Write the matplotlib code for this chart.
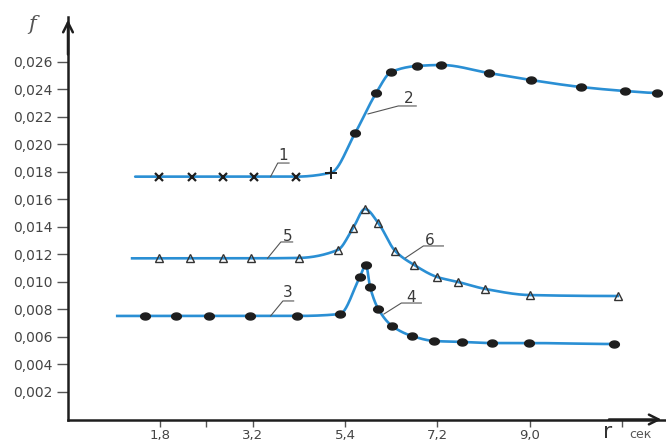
import numpy as np
import matplotlib
matplotlib.use("Agg")
import matplotlib.pyplot as plt
from matplotlib.path import Path

# ---- data -------------------------------------------------------------
# curve 1 (crosses) followed by curve 2 (dots): one continuous line
t1 = [1.78, 2.41, 3.03, 3.62, 4.44]
f1 = [0.01766, 0.01766, 0.01766, 0.01766, 0.01766]
t_plus = [5.13]
f_plus = [0.01795]
t2 = [5.60, 6.01, 6.30, 6.81, 7.28, 8.20, 9.02, 10.00, 10.86, 11.49]
f2 = [0.02084, 0.02375, 0.02527, 0.02571, 0.02578, 0.02520, 0.02469,
      0.02418, 0.02389, 0.02375]

# curves 5 / 6 (open triangles)
t56 = [1.78, 2.37, 3.03, 3.56, 4.50, 5.26, 5.56, 5.79, 6.05, 6.38, 6.75,
       7.20, 7.61, 8.14, 9.00, 10.72]
f56 = [0.01172, 0.01172, 0.01172, 0.01172, 0.01175, 0.01233, 0.01393,
       0.01531, 0.01429, 0.01225, 0.01124, 0.01036, 0.01000, 0.00949,
       0.00905, 0.00898]

# curves 3 / 4 (dots)
t34 = [1.51, 2.11, 2.74, 3.54, 4.46, 5.30, 5.69, 5.81, 5.89, 6.05, 6.32,
       6.71, 7.14, 7.69, 8.26, 8.98, 10.65]
f34 = [0.00753, 0.00753, 0.00753, 0.00753, 0.00753, 0.00767, 0.01036,
       0.01124, 0.00964, 0.00804, 0.00680, 0.00607, 0.00571, 0.00564,
       0.00556, 0.00556, 0.00549]

# time at which each drawn line begins (before its first marker)
line_start_12 = 1.31
line_start_56 = 1.25
line_start_34 = 0.96

y_ticks = [0.002, 0.004, 0.006, 0.008, 0.010, 0.012, 0.014, 0.016,
           0.018, 0.020, 0.022, 0.024, 0.026]
x_ticks = [1.8, 2.7, 3.6, 5.4, 7.2, 9.0, 10.8]
x_tick_labels = ["1,8", "", "3,2", "5,4", "7,2", "9,0", ""]

# curve numbers with their leader lines: (label, leader xs, leader ys, text x, text y)
curve_labels = [
    ("1", [3.95, 4.09, 4.31], [0.01766, 0.01865, 0.01865], 4.19, 0.01920),
    ("2", [5.85, 6.44, 6.79], [0.02222, 0.02280, 0.02280], 6.65, 0.02335),
    ("5", [3.89, 4.15, 4.38], [0.01172, 0.01291, 0.01291], 4.29, 0.01330),
    ("6", [6.58, 6.93, 7.32], [0.01175, 0.01262, 0.01262], 7.05, 0.01305),
    ("3", [3.95, 4.19, 4.40], [0.00753, 0.00862, 0.00862], 4.29, 0.00920),
    ("4", [6.16, 6.50, 6.89], [0.00767, 0.00847, 0.00847], 6.69, 0.00888),
]


def pchip(x, y, n=600):
    """Monotone cubic Hermite curve through (x, y) for a smooth drawn line."""
    x = np.asarray(x, float)
    y = np.asarray(y, float)
    h = np.diff(x)
    d = np.diff(y) / h
    m = np.zeros_like(y)
    for k in range(1, len(x) - 1):
        if d[k - 1] * d[k] > 0:
            w1 = 2 * h[k] + h[k - 1]
            w2 = h[k] + 2 * h[k - 1]
            m[k] = (w1 + w2) / (w1 / d[k - 1] + w2 / d[k])
    m[0] = d[0] if abs(d[0]) < 1e-12 else 0.0
    m[-1] = 0.0
    xs = np.linspace(x[0], x[-1], n)
    idx = np.clip(np.searchsorted(x, xs) - 1, 0, len(h) - 1)
    tt = (xs - x[idx]) / h[idx]
    h00 = 2 * tt**3 - 3 * tt**2 + 1
    h10 = tt**3 - 2 * tt**2 + tt
    h01 = -2 * tt**3 + 3 * tt**2
    h11 = tt**3 - tt**2
    ys = (h00 * y[idx] + h10 * h[idx] * m[idx]
          + h01 * y[idx + 1] + h11 * h[idx] * m[idx + 1])
    return xs, ys


# flattened ellipse used for the dot markers
theta = np.linspace(0, 2 * np.pi, 40)
ellipse = Path(np.column_stack([np.cos(theta), 0.72 * np.sin(theta)]), closed=True)

LINE = "#2a8fd4"
INK = "#1e1e1e"

fig = plt.figure(figsize=(6.66, 4.43), dpi=100)
ax = fig.add_axes([68 / 666, (443 - 419.5) / 443, 1 - 68 / 666, (419.5 - 17) / 443])
ax.set_xlim(0, 11.66)
ax.set_ylim(0, 0.02927)

# smooth lines
tx12 = [line_start_12] + t1 + t_plus + t2
fy12 = [f1[0]] + f1 + f_plus + f2
ax.plot(*pchip(tx12, fy12), color=LINE, lw=1.9, zorder=2, solid_capstyle="round")
ax.plot(*pchip([line_start_56] + t56, [f56[0]] + f56), color=LINE, lw=1.9, zorder=2)
ax.plot(*pchip([line_start_34] + t34, [f34[0]] + f34), color=LINE, lw=1.9, zorder=2)

# markers
ax.plot(t1, f1, ls="none", marker="x", ms=5.5, mew=1.6, color=INK, zorder=3)
ax.plot(t_plus, f_plus, ls="none", marker="+", ms=8, mew=1.4, color=INK, zorder=3)
ax.plot(t2, f2, ls="none", marker=ellipse, ms=7, color=INK, zorder=3)
ax.plot(t56, f56, ls="none", marker="^", ms=6, mew=1.0, mfc="none",
        mec="#333333", zorder=3)
ax.plot(t34, f34, ls="none", marker=ellipse, ms=7, color=INK, zorder=3)

# curve numbers
for lab, lx, ly, tx, ty in curve_labels:
    ax.plot(lx, ly, color="#555555", lw=0.8, zorder=2.5)
    ax.text(tx, ty, lab, fontsize=11, color="#3a3a3a", ha="center", va="center")

# axes
for side in ("top", "right"):
    ax.spines[side].set_visible(False)
for side in ("left", "bottom"):
    ax.spines[side].set_linewidth(1.8)
    ax.spines[side].set_color(INK)

ax.set_yticks(y_ticks)
ax.set_yticklabels([f"{v:.3f}".replace(".", ",") for v in y_ticks])
ax.set_xticks(x_ticks)
ax.set_xticklabels(x_tick_labels)
ax.tick_params(axis="y", direction="out", length=8, width=1.0, color="#555555",
               labelsize=10, labelcolor="#444444", pad=3)
ax.tick_params(axis="x", direction="out", length=5, width=1.0, color="#555555",
               labelsize=9.5, labelcolor="#444444", pad=2)

arrow = dict(arrowstyle="->,head_length=0.7,head_width=0.35", lw=1.8, color=INK)
ax.annotate("", xy=(0, 1.0), xytext=(0, 0.9), xycoords="axes fraction",
            arrowprops=arrow, annotation_clip=False)
ax.annotate("", xy=(0.997, 0), xytext=(0.9, 0), xycoords="axes fraction",
            arrowprops=arrow, annotation_clip=False)

fig.text(32 / 666, 1 - 24 / 443, "f", fontsize=15, fontstyle="italic",
         family="DejaVu Serif", color="#555555", ha="center", va="center")
fig.text(608 / 666, 1 - 432 / 443, "r", fontsize=16, color="#333333",
         ha="center", va="center")
fig.text(640 / 666, 1 - 434 / 443, "сек", fontsize=9, color="#555555",
         ha="center", va="center")

fig.savefig("out.png", dpi=100)
